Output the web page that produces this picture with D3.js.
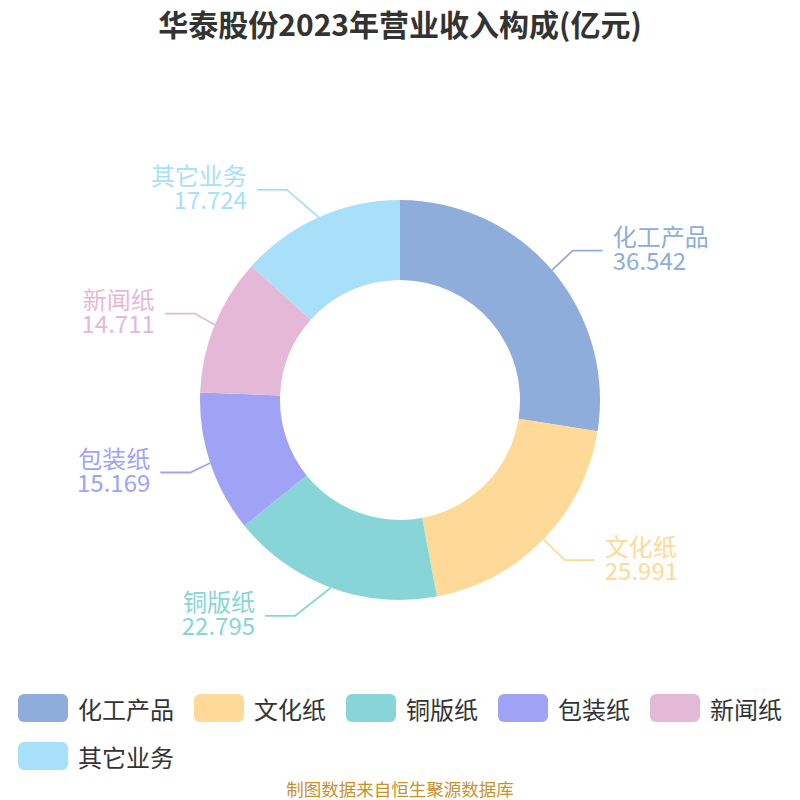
<!DOCTYPE html>
<html>
<head>
<meta charset="utf-8">
<script src="https://cdn.jsdelivr.net/npm/d3@7"></script>
<style>
  html, body { margin: 0; padding: 0; background: #ffffff; }
  svg { display: block; font-family: "Noto Sans CJK SC", "Noto Sans", sans-serif; }
</style>
</head>
<body>
<svg id="chart" width="800" height="800"></svg>
<script>
const titleText = "华泰股份2023年营业收入构成(亿元)";
const sourceText = "制图数据来自恒生聚源数据库";
const categories = ["化工产品", "文化纸", "铜版纸", "包装纸", "新闻纸", "其它业务"];
const values = [36.542, 25.991, 22.795, 15.169, 14.711, 17.724];
const valueLabels = ["36.542", "25.991", "22.795", "15.169", "14.711", "17.724"];
const colors = ["#8eadda", "#ffd998", "#88d5d8", "#a0a3f5", "#e6b8d7", "#a8e0f9"];

const W = 800, H = 800;
const cx = 400, cy = 400, rOuter = 200, rInner = 120;
const len1 = 30, len2 = 30, labelGap = 10;

const svg = d3.select("#chart");

// Title
svg.append("text")
  .attr("x", W / 2).attr("y", 23)
  .attr("text-anchor", "middle")
  .attr("dominant-baseline", "central")
  .attr("font-size", 30).attr("font-weight", "bold")
  .attr("fill", "#333333")
  .text(titleText);

const data = categories.map((c, i) => ({ name: c, value: values[i], label: valueLabels[i], color: colors[i] }));

const pie = d3.pie().sort(null).value(d => d.value).startAngle(0).endAngle(2 * Math.PI);
const arcs = pie(data);
const arc = d3.arc().innerRadius(rInner).outerRadius(rOuter);

const g = svg.append("g").attr("transform", `translate(${cx},${cy})`);
g.selectAll("path.slice").data(arcs).enter().append("path")
  .attr("class", "slice")
  .attr("d", arc)
  .attr("fill", d => d.data.color);

// Labels (outer, with elbow lines)
const labelR = rOuter + len1;
const textR = rOuter + len1 + len2;
arcs.forEach(a => {
  const mid = (a.startAngle + a.endAngle) / 2;
  const dx = Math.sin(mid), dy = -Math.cos(mid);
  const side = dx < 0 ? -1 : 1;
  const x1 = rOuter * dx, y1 = rOuter * dy;
  const ly = labelR * dy;
  const ady = Math.abs(ly);
  const deltaX = Math.sqrt(textR * textR - ady * ady);
  const tx = side * deltaX;
  const x3 = tx - side * labelGap;
  const x2 = x3 - side * len2;
  const col = a.data.color;
  g.append("polyline")
    .attr("points", [[x1, y1], [x2, ly], [x3, ly]].map(p => p.join(",")).join(" "))
    .attr("fill", "none")
    .attr("stroke", col)
    .attr("stroke-width", 1.8);
  const anchor = side < 0 ? "end" : "start";
  g.append("text")
    .attr("x", tx).attr("y", ly - 15)
    .attr("text-anchor", anchor)
    .attr("dominant-baseline", "central")
    .attr("font-size", 24)
    .attr("fill", col)
    .text(a.data.name);
  g.append("text")
    .attr("x", tx).attr("y", ly + 9)
    .attr("text-anchor", anchor)
    .attr("dominant-baseline", "central")
    .attr("font-size", 24)
    .attr("fill", col)
    .text(a.data.label);
});

// Legend
const legend = svg.append("g");
let lx = 18, row = 0;
const rowY0 = 708, rowGap = 48, swW = 50, swH = 28;
data.forEach(d => {
  const item = legend.append("g");
  const t = item.append("text")
    .attr("font-size", 24)
    .attr("fill", "#333333")
    .attr("dominant-baseline", "central")
    .text(d.name);
  const tw = t.node().getComputedTextLength();
  const itemW = swW + 10 + tw;
  if (lx + itemW > W - 10) { lx = 18; row += 1; }
  const yc = rowY0 + row * rowGap;
  item.insert("rect", "text")
    .attr("x", lx).attr("y", yc - swH / 2)
    .attr("width", swW).attr("height", swH)
    .attr("rx", 6).attr("ry", 6)
    .attr("fill", d.color);
  t.attr("x", lx + swW + 10).attr("y", yc);
  lx += itemW + 20;
});

// Source
svg.append("text")
  .attr("x", W / 2).attr("y", 788)
  .attr("text-anchor", "middle")
  .attr("dominant-baseline", "central")
  .attr("font-size", 17.5)
  .attr("fill", "#c8922b")
  .text(sourceText);
</script>
</body>
</html>
